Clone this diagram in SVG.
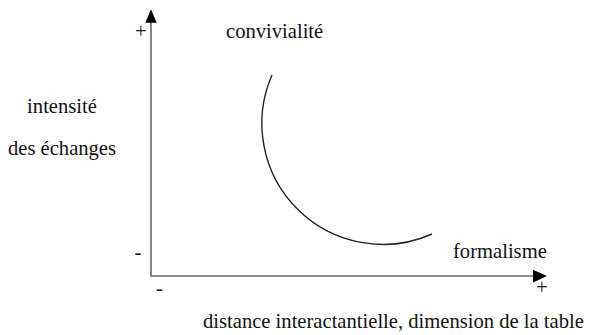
<svg xmlns="http://www.w3.org/2000/svg" width="594" height="335" viewBox="0 0 594 335">
<style>
text{font-family:"Liberation Serif","Times New Roman",serif;font-size:20.6px;fill:#111}
.axis{stroke:#666;stroke-width:1.6;fill:none}
.curve{stroke:#222;stroke-width:1.4;fill:none}
.c{text-anchor:middle}
</style>
<rect width="594" height="335" fill="#fff"/>
<g id="connectors">
<line class="axis" x1="151" y1="22" x2="151" y2="276"/>
<line class="axis" x1="150.2" y1="276" x2="535" y2="276"/>
<polygon points="151,9.3 145.3,22.7 156.7,22.7" fill="#000"/>
<polygon points="547,276 533,269.8 533,282.5" fill="#000"/>
<path class="curve" d="M272 75 A121 121 0 0 0 432 234"/>
</g>
<g id="yaxis-labels">
<text class="c" x="140.7" y="37.5">+</text>
<text class="c" x="138" y="258.7">-</text>
<text class="c" x="62" y="113">intensité</text>
<text class="c" x="62" y="155">des échanges</text>
</g>
<g id="xaxis-labels">
<text class="c" x="159.5" y="294.7">-</text>
<text class="c" x="541.7" y="294.3">+</text>
<text x="203" y="328">distance interactantielle, dimension de la table</text>
</g>
<g id="convivialite"><text x="226" y="38">convivialité</text></g>
<g id="formalisme"><text x="453" y="258">formalisme</text></g>
</svg>
